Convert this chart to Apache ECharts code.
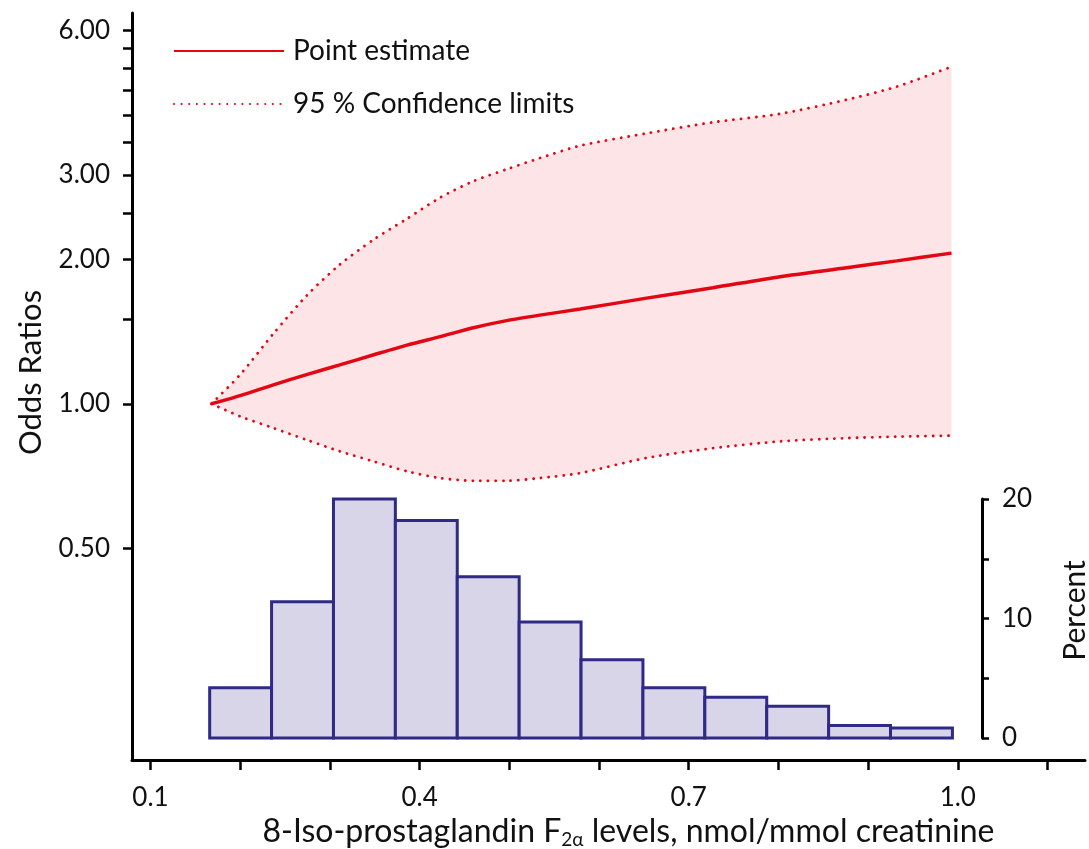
<!DOCTYPE html>
<html>
<head>
<meta charset="utf-8">
<script src="https://cdn.jsdelivr.net/npm/echarts@6/dist/echarts.min.js"></script>
<style>
html,body{margin:0;padding:0;background:#fff;}
#main{width:1089px;height:849px;}
</style>
</head>
<body>
<div id="main"></div>
<script>
// x positions (nmol/mmol creatinine) where the curves were read
var xPts = [0.168, 0.200, 0.237, 0.274, 0.311, 0.349, 0.386, 0.423, 0.460, 0.497, 0.534, 0.579, 0.653, 0.727, 0.802, 0.876, 0.932, 0.993];
var pointEst = [1.00, 1.04, 1.095, 1.15, 1.205, 1.265, 1.325, 1.38, 1.44, 1.49, 1.53, 1.575, 1.66, 1.745, 1.84, 1.92, 1.985, 2.06];
var upperCI = [1.00, 1.15, 1.40, 1.68, 1.95, 2.20, 2.43, 2.69, 2.91, 3.08, 3.25, 3.45, 3.66, 3.86, 4.02, 4.30, 4.58, 5.04];
var lowerCI = [1.00, 0.941, 0.890, 0.841, 0.796, 0.758, 0.723, 0.700, 0.691, 0.691, 0.700, 0.717, 0.771, 0.808, 0.835, 0.848, 0.854, 0.858];

// histogram bins
var binEdges = [0.166, 0.235, 0.304, 0.373, 0.442, 0.511, 0.580, 0.649, 0.718, 0.787, 0.856, 0.925, 0.994];
var binPct = [4.2, 11.4, 20.0, 18.2, 13.5, 9.7, 6.55, 4.2, 3.4, 2.65, 1.05, 0.84];

var orLabels = [0.5, 1, 2, 3, 6];
var orTicks = [0.5, 1, 1.5, 2, 2.5, 3, 3.5, 4, 4.5, 5, 5.5, 6];
var xLabels = [0.1, 0.4, 0.7, 1.0];
var xTicks = [0.1, 0.2, 0.3, 0.4, 0.5, 0.6, 0.7, 0.8, 0.9, 1.0, 1.1];

var RED = '#e30613';
var FONT = 'Lato';
var SMOOTH = 0.25;

function pairs(xs, ys){
	var out = [];
	for(var i=0;i<xs.length;i++){ out.push([xs[i], ys[i]]); }
	return out;
}
// band rows are [value, x] so that the value column is the stacked one
var bandBase = [], bandDiff = [];
for(var i=0;i<xPts.length;i++){
	bandBase.push([lowerCI[i], xPts[i]]);
	bandDiff.push([upperCI[i]-lowerCI[i], xPts[i]]);
}
var histData = [];
for(var j=0;j<binPct.length;j++){ histData.push([binEdges[j], binEdges[j+1], binPct[j]]); }

var chart = echarts.init(document.getElementById('main'));
var dotStyle = {color: RED, width: 2.8, type: [0.1, 7.5], cap: 'round'};
var option = {
	animation: false,
	textStyle: {fontFamily: FONT},
	legend: {
		left: 168, top: 32, orient: 'vertical',
		itemWidth: 110, itemHeight: 14, itemGap: 25,
		selectedMode: false,
		itemStyle: {opacity: 0},
		textStyle: {fontSize: 28, fontFamily: FONT, color: '#111', padding: [0,0,0,4]},
		data: ['Point estimate', '95 % Confidence limits']
	},
	grid: [
		{left: 132, right: 4, top: 13, bottom: 89, outerBoundsMode: 'none'},
		{left: 132, right: 4, top: 499, bottom: 111, outerBoundsMode: 'none'}
	],
	xAxis: [{
		type: 'value', gridIndex: 0, min: 0.0794, max: 1.1418, z: 10,
		name: '8-Iso-prostaglandin F{sub|2α} levels, nmol/mmol creatinine',
		nameLocation: 'middle', nameGap: 55,
		nameTextStyle: {
			fontSize: 32, fontFamily: FONT, color: '#111', padding: [0, 0, 0, 40],
			rich: {sub: {fontSize: 19, fontFamily: FONT, color: '#111', padding: [15, 0, 0, 0]}}
		},
		splitLine: {show: false},
		axisLine: {lineStyle: {color: '#000', width: 3}},
		axisTick: {customValues: xTicks, length: 10, lineStyle: {color: '#000', width: 2.5}},
		axisLabel: {customValues: xLabels, margin: 25, fontSize: 26, color: '#111',
			formatter: function(v){ return v.toFixed(1); }}
	}, {
		type: 'value', gridIndex: 1, min: 0.0794, max: 1.1418, show: false
	}],
	yAxis: [{
		type: 'log', gridIndex: 0, logBase: 2, min: 0.181, max: 6.52, z: 10,
		name: 'Odds Ratios', nameLocation: 'middle', nameGap: 86,
		nameTextStyle: {fontSize: 31, fontFamily: FONT, color: '#111', padding: [0, 0, 0, 28]},
		splitLine: {show: false},
		axisLine: {show: true, lineStyle: {color: '#000', width: 3}},
		axisTick: {customValues: orTicks, length: 9, lineStyle: {color: '#000', width: 2.5}},
		axisLabel: {customValues: orLabels, margin: 22, fontSize: 26, color: '#111',
			formatter: function(v){ return Number(v).toFixed(2); }}
	}, {
		type: 'value', gridIndex: 1, position: 'right', offset: -103,
		min: 0, max: 20, interval: 5,
		name: 'Percent', nameLocation: 'middle', nameGap: 78,
		nameTextStyle: {fontSize: 30, fontFamily: FONT, color: '#111', padding: [0, 0, 0, 16]},
		splitLine: {show: false},
		axisLine: {show: true, lineStyle: {color: '#000', width: 3}},
		axisTick: {show: true, length: 7, lineStyle: {color: '#000', width: 2.5}},
		axisLabel: {margin: 20, fontSize: 26, color: '#111',
			formatter: function(v){ return v % 10 === 0 ? String(v) : ''; }}
	}],
	series: [{
		name: 'bandBase', type: 'line', stack: 'ci', smooth: SMOOTH,
		data: bandBase, encode: {x: 1, y: 0}, symbol: 'none',
		lineStyle: {opacity: 0}, silent: true, z: 1
	}, {
		name: 'bandFill', type: 'line', stack: 'ci', smooth: SMOOTH,
		data: bandDiff, encode: {x: 1, y: 0}, symbol: 'none',
		lineStyle: {opacity: 0}, areaStyle: {color: '#fce4e7', opacity: 1}, silent: true, z: 1
	}, {
		name: '95 % Confidence limits', type: 'line', smooth: SMOOTH,
		data: pairs(xPts, upperCI), symbol: 'none', itemStyle: {color: RED},
		lineStyle: dotStyle, z: 3
	}, {
		name: '95 % Confidence limits', type: 'line', smooth: SMOOTH,
		data: pairs(xPts, lowerCI), symbol: 'none', itemStyle: {color: RED},
		lineStyle: dotStyle, z: 3
	}, {
		name: 'Point estimate', type: 'line', smooth: SMOOTH,
		data: pairs(xPts, pointEst), symbol: 'none', itemStyle: {color: RED},
		lineStyle: {color: RED, width: 3.5}, z: 4
	}, {
		name: 'histogram', type: 'custom', xAxisIndex: 1, yAxisIndex: 1,
		data: histData,
		encode: {x: [0, 1], y: 2},
		renderItem: function(params, api){
			var top = api.coord([api.value(0), api.value(2)]);
			var bot = api.coord([api.value(1), 0]);
			return {
				type: 'rect',
				shape: {x: top[0], y: top[1], width: bot[0]-top[0], height: bot[1]-top[1]},
				style: {fill: '#d8d5e8', stroke: '#2f2a85', lineWidth: 3}
			};
		},
		z: 5
	}]
};
chart.setOption(option);
</script>
</body>
</html>
